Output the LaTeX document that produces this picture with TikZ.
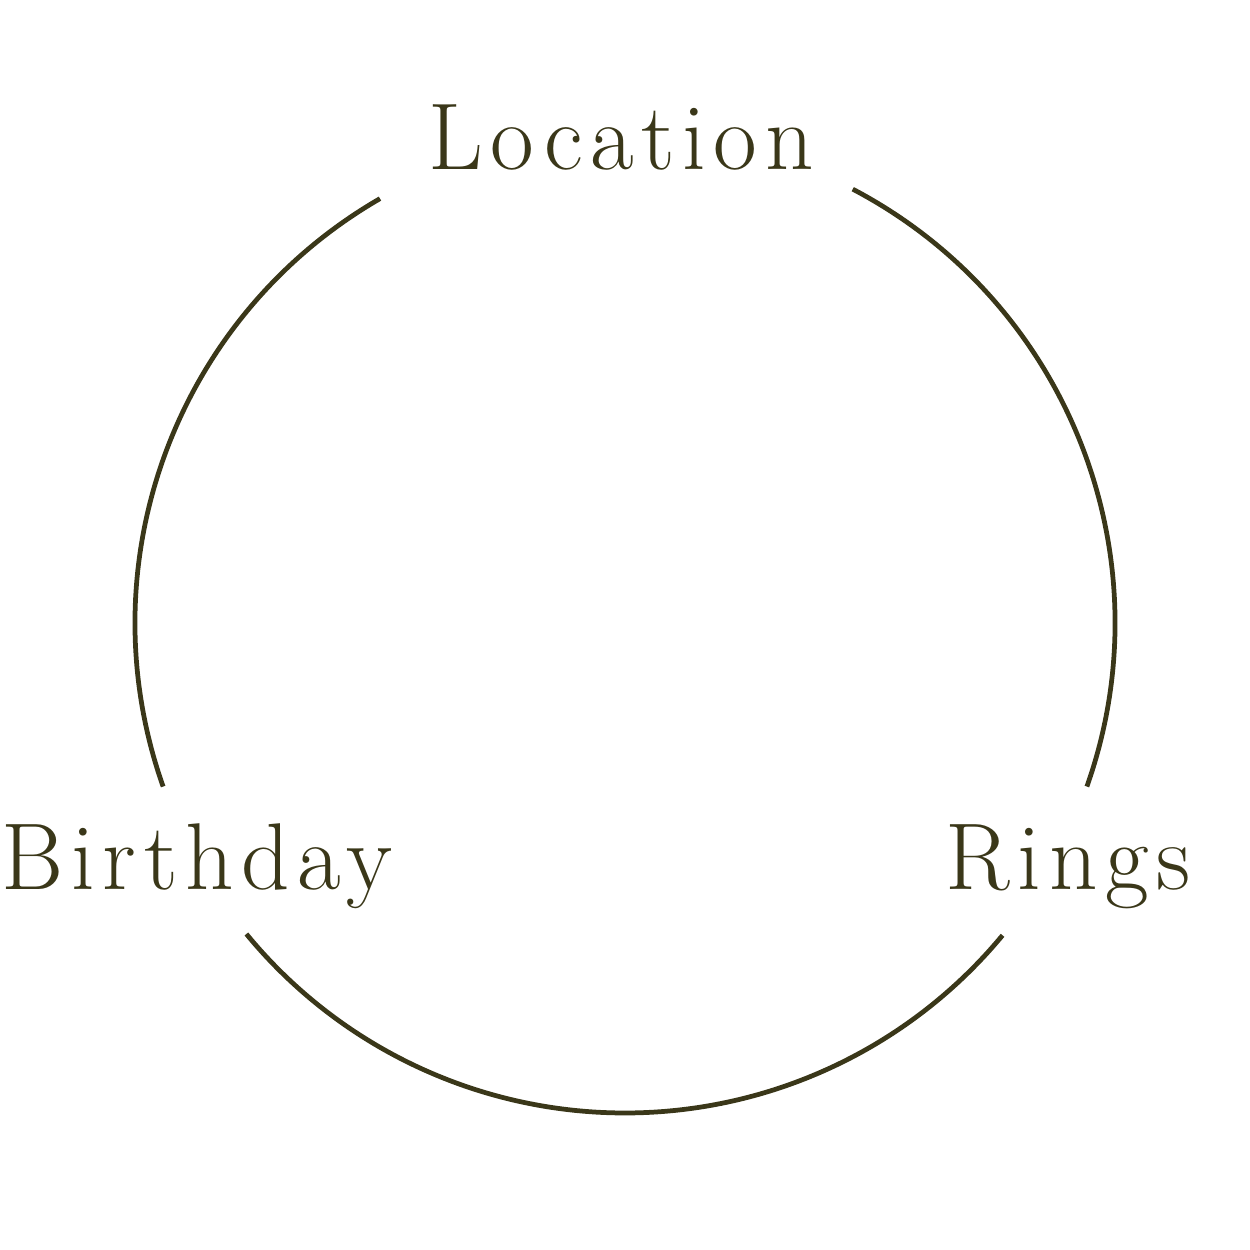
\documentclass[tikz,border=0pt]{standalone}
\usepackage{fontspec}
\setmainfont{Latin Modern Roman}[LetterSpace=8]
\definecolor{olive}{HTML}{3A3719}
\begin{document}
\begin{tikzpicture}[x=0.02cm,y=0.02cm,
  label/.style={text=olive,inner sep=0pt,anchor=base,font=\fontsize{54}{60}\selectfont},
  ring/.style={draw=olive,line width=0.095cm}]
\useasboundingbox (0,0) rectangle (1250,1250);

\coordinate (c) at (625,627);
\node[label] (loc) at (621,1080) {Location};
\node[label] (bday) at (197,360) {Birthday};
\node[label] (rings) at (1068,360) {Rings};

\draw[ring] ([shift={(-19.5:490)}]c) arc[start angle=-19.5,end angle=62.3,radius=490];
\draw[ring] ([shift={(120:490)}]c) arc[start angle=120,end angle=199.5,radius=490];
\draw[ring] ([shift={(219.4:490)}]c) arc[start angle=219.4,end angle=320.4,radius=490];
\end{tikzpicture}
\end{document}
